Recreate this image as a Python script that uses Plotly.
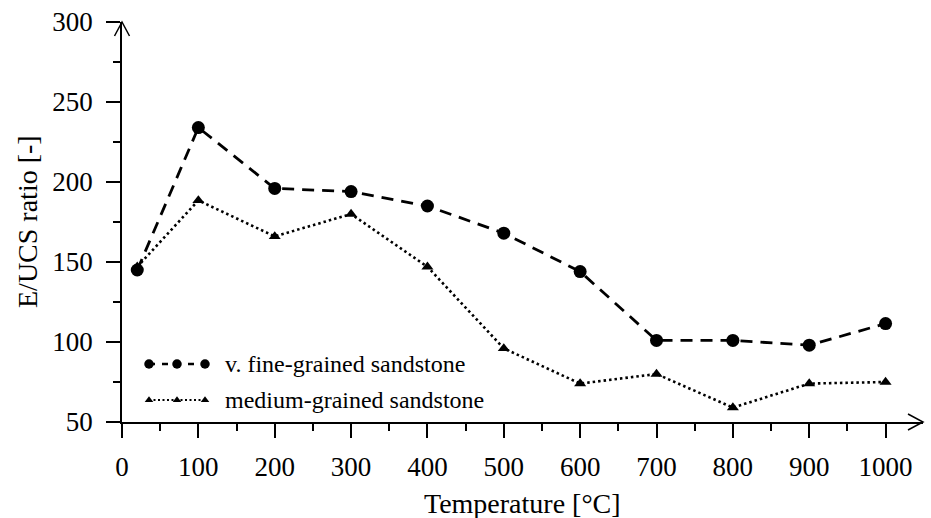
import plotly.graph_objects as go

# Measured E/UCS ratios versus treatment temperature
temperature = [20, 100, 200, 300, 400, 500, 600, 700, 800, 900, 1000]
fine_grained = [145, 234, 196, 194, 185, 168, 144, 101, 101, 98, 111.5]
medium_grained = [147, 188.5, 166, 180, 147, 96, 74, 80, 59, 74, 75]

series_names = ["v. fine-grained sandstone", "medium-grained sandstone"]
x_ticks = [0, 100, 200, 300, 400, 500, 600, 700, 800, 900, 1000]
y_ticks = [50, 100, 150, 200, 250, 300]

FONT = "Liberation Serif, Times New Roman, serif"
W, H = 931, 518
L, R, T, B = 122, 8, 22, 96
PW, PH = W - L - R, H - T - B

fig = go.Figure()

fig.add_trace(go.Scatter(
    x=temperature, y=fine_grained, mode="lines+markers", name=series_names[0],
    line=dict(color="black", width=2.8, dash="12px,8px"),
    marker=dict(symbol="circle", size=13, color="black"),
    showlegend=False,
))
fig.add_trace(go.Scatter(
    x=temperature, y=medium_grained, mode="lines+markers", name=series_names[1],
    line=dict(color="black", width=2.6, dash="2.5px,3px"),
    marker=dict(symbol="triangle-up", size=10.5, color="black"),
    showlegend=False,
))

# Hand-drawn legend keys on an overlay axis spanning the plot area (0..1)
def px_x(p):
    return (p - L) / PW


def px_y(p):
    return (H - B - p) / PH


key_x = [px_x(149), px_x(177), px_x(205)]
fig.add_trace(go.Scatter(
    x=key_x, y=[px_y(364)] * 3, xaxis="x2", yaxis="y2", mode="lines+markers",
    line=dict(color="black", width=2.6, dash="6px,7px"),
    marker=dict(symbol="circle", size=9.5, color="black"),
    showlegend=False, hoverinfo="skip",
))
fig.add_trace(go.Scatter(
    x=key_x, y=[px_y(400)] * 3, xaxis="x2", yaxis="y2", mode="lines+markers",
    line=dict(color="black", width=2.2, dash="2px,2.5px"),
    marker=dict(symbol="triangle-up", size=7.5, color="black"),
    showlegend=False, hoverinfo="skip",
))

annotations = [
    dict(text=series_names[0], x=px_x(223), y=px_y(364), xref="paper", yref="paper",
         xanchor="left", yanchor="middle", showarrow=False,
         font=dict(family=FONT, size=24, color="black")),
    dict(text=series_names[1], x=px_x(223), y=px_y(400), xref="paper", yref="paper",
         xanchor="left", yanchor="middle", showarrow=False,
         font=dict(family=FONT, size=24, color="black")),
    dict(text="Temperature [°C]", x=0.5, y=px_y(503), xref="paper", yref="paper",
         xanchor="center", yanchor="middle", showarrow=False,
         font=dict(family=FONT, size=28, color="black")),
    dict(text="E/UCS ratio [-]", x=px_x(27), y=0.5, xref="paper", yref="paper",
         xanchor="center", yanchor="middle", textangle=-90, showarrow=False,
         font=dict(family=FONT, size=28, color="black")),
]

# Open arrowheads at the ends of both axes
ax_w = 1.5
shapes = [
    dict(type="path", xref="paper", yref="paper",
         path=f"M {1 - 15 / PW},{8 / PH} L 1,0 L {1 - 15 / PW},{-8 / PH}",
         line=dict(color="black", width=ax_w)),
    dict(type="path", xref="paper", yref="paper",
         path=f"M {-7.5 / PW},{1 - 14 / PH} L 0,1 L {7.5 / PW},{1 - 14 / PH}",
         line=dict(color="black", width=ax_w)),
]

fig.update_layout(
    width=W, height=H,
    margin=dict(l=L, r=R, t=T, b=B),
    paper_bgcolor="white", plot_bgcolor="white",
    font=dict(family=FONT, size=27, color="black"),
    showlegend=False,
    annotations=annotations,
    shapes=shapes,
    xaxis=dict(
        range=[0, 1049], tickvals=x_ticks, ticktext=[str(v) for v in x_ticks],
        showgrid=False, zeroline=False, showline=True, linecolor="black", linewidth=ax_w,
        ticks="outside", ticklen=14, tickwidth=ax_w, tickcolor="black",
        minor=dict(dtick=50, tick0=0, ticks="outside", ticklen=7, tickwidth=ax_w,
                   tickcolor="black", showgrid=False),
        tickfont=dict(family=FONT, size=27, color="black"),
        ticklabelstandoff=6,
    ),
    yaxis=dict(
        range=[50, 300], tickvals=y_ticks, ticktext=[str(v) for v in y_ticks],
        showgrid=False, zeroline=False, showline=True, linecolor="black", linewidth=ax_w,
        ticks="outside", ticklen=14, tickwidth=ax_w, tickcolor="black",
        minor=dict(dtick=25, tick0=50, ticks="outside", ticklen=7, tickwidth=ax_w,
                   tickcolor="black", showgrid=False),
        tickfont=dict(family=FONT, size=27, color="black"),
        ticklabelstandoff=8,
    ),
    xaxis2=dict(range=[0, 1], overlaying="x", visible=False),
    yaxis2=dict(range=[0, 1], overlaying="y", visible=False),
)

fig.write_html("out.html")
